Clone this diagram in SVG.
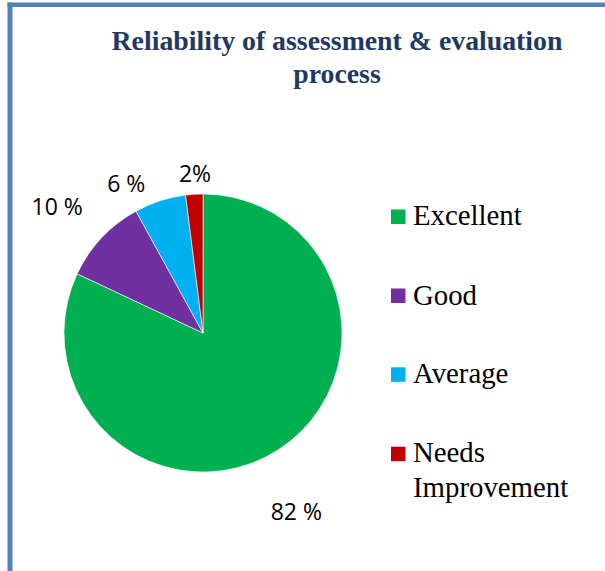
<svg xmlns="http://www.w3.org/2000/svg" width="605" height="571" viewBox="0 0 605 571">
  <style>
    .title { font-family: "Liberation Serif", "Times New Roman", serif; font-weight: bold; font-size: 27.8px; fill: #1F3864; text-anchor: middle; }
    .pct { font-family: "Open Sans", "Liberation Sans", sans-serif; font-size: 23px; fill: #000; text-anchor: middle; }
    .leg { font-family: "Liberation Serif", "Times New Roman", serif; font-size: 28.8px; fill: #000; }
    .slice { stroke: #ffffff; stroke-width: 0.6; }
  </style>
  <rect x="0" y="0" width="605" height="571" fill="#ffffff"/>
  <g id="frame" fill="#4F81BD">
    <rect x="7.5" y="2.5" width="597.5" height="4.5"/>
    <rect x="7.5" y="2.5" width="5" height="568.5"/>
  </g>
  <g id="title">
    <text class="title" x="337" y="49.5">Reliability of assessment &amp; evaluation</text>
    <text class="title" x="337" y="83">process</text>
  </g>
  <g id="pie">
    <path id="excellent" class="slice" fill="#00B050" d="M203,333 L203,194 A139,139 0 1 1 77.23,273.81 Z"/>
    <path id="good" class="slice" fill="#7030A0" d="M203,333 L77.23,273.81 A139,139 0 0 1 136.03,211.19 Z"/>
    <path id="average" class="slice" fill="#00B0F0" d="M203,333 L136.03,211.19 A139,139 0 0 1 185.58,195.1 Z"/>
    <path id="needs" class="slice" fill="#C00000" d="M203,333 L185.58,195.1 A139,139 0 0 1 203,194 Z"/>
  </g>
  <g id="labels">
    <text class="pct" x="57.2" y="215">10 %</text>
    <text class="pct" x="126.3" y="191.7">6 %</text>
    <text class="pct" x="195" y="181.7">2%</text>
    <text class="pct" x="296.3" y="520">82 %</text>
  </g>
  <g id="legend">
    <g id="legend-excellent">
      <rect x="391" y="209.5" width="14.5" height="14.5" fill="#00B050"/>
      <text class="leg" x="413" y="225">Excellent</text>
    </g>
    <g id="legend-good">
      <rect x="391" y="288.5" width="14.5" height="14.5" fill="#7030A0"/>
      <text class="leg" x="413" y="304.5">Good</text>
    </g>
    <g id="legend-average">
      <rect x="391" y="367.3" width="14.5" height="14.5" fill="#00B0F0"/>
      <text class="leg" x="413" y="383.3">Average</text>
    </g>
    <g id="legend-needs">
      <rect x="391" y="446.7" width="14.5" height="14.5" fill="#C00000"/>
      <text class="leg" x="413" y="462">Needs</text>
      <text class="leg" x="413" y="497">Improvement</text>
    </g>
  </g>
</svg>
